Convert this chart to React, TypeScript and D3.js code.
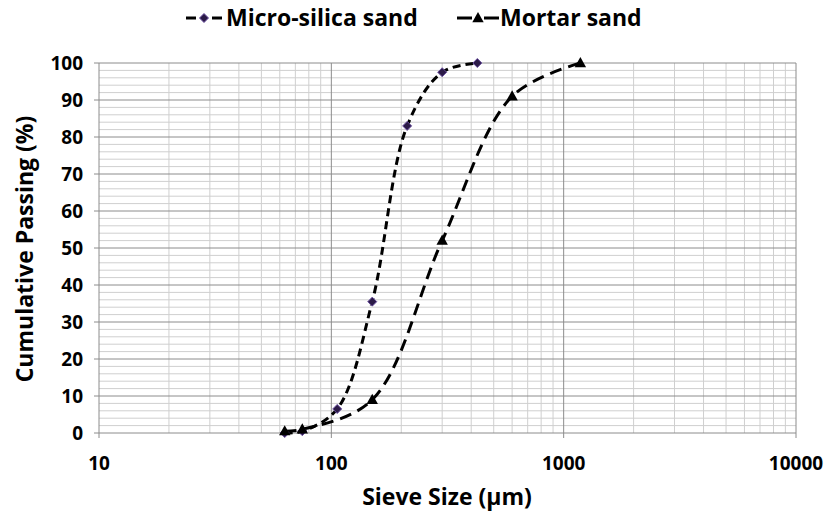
import React from "react";
import * as d3 from "d3";

// sieve sizes (µm) and cumulative passing (%)
const microSize = [63, 75, 106, 150, 212, 300, 425];
const microPass = [0, 0.5, 6.5, 35.5, 83, 97.5, 100];
const mortarSize = [63, 75, 150, 300, 600, 1180];
const mortarPass = [0.5, 1, 9, 52, 91, 100];

const xTicks = [10, 100, 1000, 10000];
const yTicks = [0, 10, 20, 30, 40, 50, 60, 70, 80, 90, 100];

const W = 826, H = 515;
const FONT = "'Open Sans', 'DejaVu Sans', sans-serif";

const App = () => {
    const x = d3.scaleLog().domain([10, 10000]).range([99, 796]);
    const y = d3.scaleLinear().domain([0, 100]).range([433, 63]);

    // minor vertical grid: 2..9 of each decade
    const minorX: number[] = [];
    for (let d = 10; d < 10000; d *= 10) {
        for (let k = 2; k <= 9; k++) minorX.push(d * k);
    }
    const minorY = d3.range(0, 101, 2).filter(v => v % 10 !== 0);

    const line = d3.line<[number, number]>()
        .x(d => x(d[0]))
        .y(d => y(d[1]))
        .curve(d3.curveCatmullRom.alpha(0.5));

    const micro: [number, number][] = microSize.map((s, i) => [s, microPass[i]]);
    const mortar: [number, number][] = mortarSize.map((s, i) => [s, mortarPass[i]]);

    const diamond = (cx: number, cy: number, r = 4.5) =>
        `M${cx},${cy - r}L${cx + r},${cy}L${cx},${cy + r}L${cx - r},${cy}Z`;
    const tri = (cx: number, cy: number, r = 6) =>
        `M${cx},${cy - r}L${cx + r * 0.95},${cy + r * 0.7}L${cx - r * 0.95},${cy + r * 0.7}Z`;

    return (
        <svg width={W} height={H} style={{position: "absolute", left: 0, top: 0, background: "#fff"}}
             fontFamily={FONT}>
            {/* grid */}
            <g>
                {minorY.map(v => (
                    <line key={"hy" + v} x1={99} x2={796} y1={y(v)} y2={y(v)} stroke="#cfcfcf" strokeWidth={1}/>
                ))}
                {minorX.map(v => (
                    <line key={"vx" + v} x1={x(v)} x2={x(v)} y1={63} y2={433} stroke="#cfcfcf" strokeWidth={1}/>
                ))}
                {yTicks.map(v => (
                    <line key={"my" + v} x1={99} x2={796} y1={y(v)} y2={y(v)} stroke="#8c8c8c" strokeWidth={1}/>
                ))}
                {xTicks.map(v => (
                    <line key={"mx" + v} x1={x(v)} x2={x(v)} y1={63} y2={433} stroke="#8c8c8c" strokeWidth={1}/>
                ))}
            </g>

            {/* axes ticks */}
            {yTicks.map(v => (
                <g key={"yt" + v}>
                    <line x1={94} x2={99} y1={y(v)} y2={y(v)} stroke="#8c8c8c"/>
                    <text x={83} y={y(v)} dy="0.36em" textAnchor="end" fontSize={19} fontWeight="bold" fill="#000">{v}</text>
                </g>
            ))}
            {xTicks.map(v => (
                <g key={"xt" + v}>
                    <line x1={x(v)} x2={x(v)} y1={433} y2={438} stroke="#8c8c8c"/>
                    <text x={x(v)} y={470} textAnchor="middle" fontSize={19} fontWeight="bold" fill="#000">{v}</text>
                </g>
            ))}

            {/* axis titles */}
            <text x={447} y={505} textAnchor="middle" fontSize={23} fontWeight="bold">Sieve Size (µm)</text>
            <text transform={`translate(33,249) rotate(-90)`} textAnchor="middle" fontSize={23} fontWeight="bold">Cumulative Passing (%)</text>

            {/* series */}
            <path d={line(micro) || ""} fill="none" stroke="#000" strokeWidth={3} strokeDasharray="8,5"/>
            <path d={line(mortar) || ""} fill="none" stroke="#000" strokeWidth={3} strokeDasharray="12,7"/>
            {micro.map((d, i) => (
                <path key={"md" + i} d={diamond(x(d[0]), y(d[1]))} fill="#2b1a47" stroke="#6a4fa0" strokeWidth={1}/>
            ))}
            {mortar.map((d, i) => (
                <path key={"mt" + i} d={tri(x(d[0]), y(d[1]))} fill="#000"/>
            ))}

            {/* legend */}
            <g>
                <line x1={186} x2={196} y1={18} y2={18} stroke="#000" strokeWidth={3}/>
                <line x1={212} x2={222} y1={18} y2={18} stroke="#000" strokeWidth={3}/>
                <path d={diamond(204, 18)} fill="#2b1a47" stroke="#6a4fa0" strokeWidth={1}/>
                <text x={226} y={18} dy="0.36em" fontSize={23} fontWeight="bold">Micro-silica sand</text>
                <line x1={457} x2={472} y1={18} y2={18} stroke="#000" strokeWidth={3}/>
                <line x1={484} x2={499} y1={18} y2={18} stroke="#000" strokeWidth={3}/>
                <path d={tri(478, 18)} fill="#000"/>
                <text x={500} y={18} dy="0.36em" fontSize={23} fontWeight="bold">Mortar sand</text>
            </g>
        </svg>
    );
};

export default App;
